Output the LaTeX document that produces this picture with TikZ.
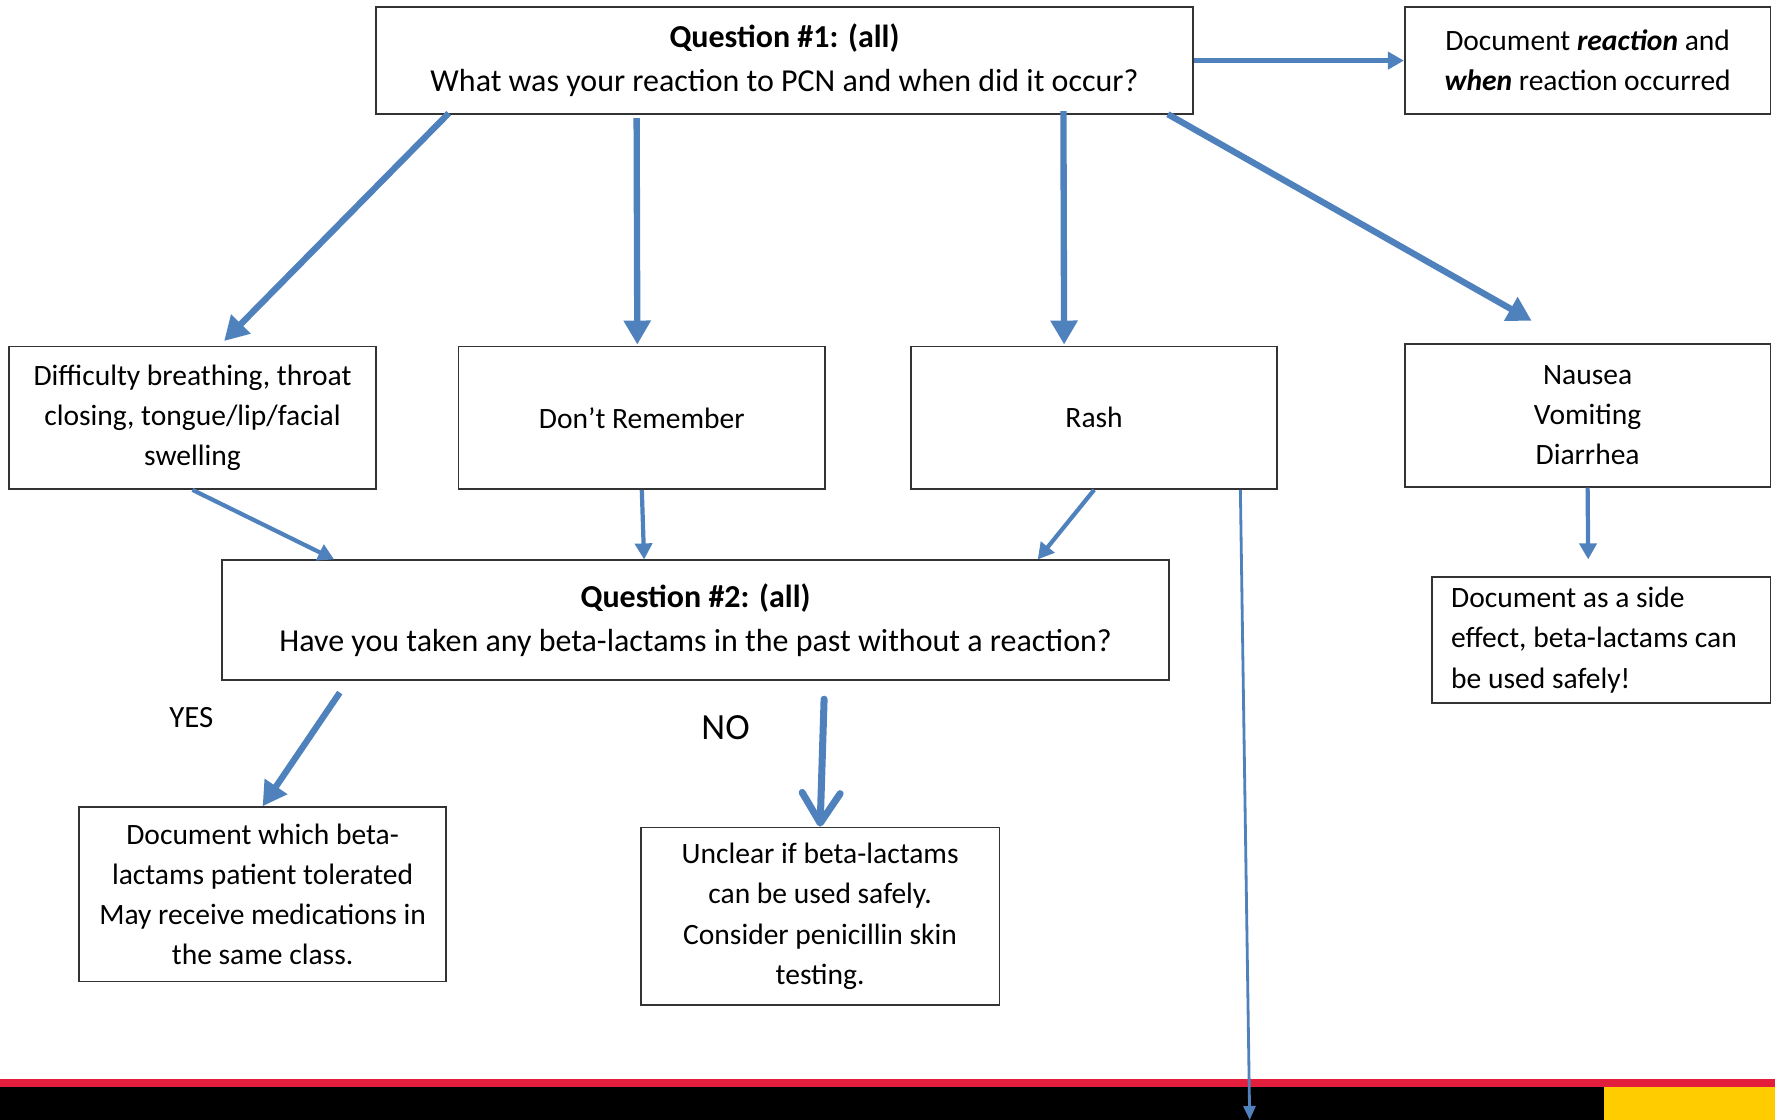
\documentclass[tikz,border=0pt]{standalone}
\usepackage{fontspec}
\setmainfont{Carlito}
\usetikzlibrary{arrows.meta}
\definecolor{flowblue}{HTML}{4F81BD}
\definecolor{barred}{HTML}{E31D3C}
\definecolor{baryellow}{HTML}{FFCC00}
\begin{document}
\begin{tikzpicture}[x=1cm,y=1cm,
  box/.style={draw=black!80, line width=0.5pt, align=center, inner sep=0pt, font=\fontsize{8.4}{11.4}\selectfont},
  qbox/.style={box, font=\fontsize{9.1}{12.5}\selectfont},
  bigflow/.style={draw=flowblue, line width=1.8pt, -{Triangle[length=0.24cm,width=0.26cm]}},
  midflow/.style={draw=flowblue, line width=1.2pt, -{Triangle[length=0.16cm,width=0.17cm]}},
  thinflow/.style={draw=flowblue, line width=0.8pt, -{Triangle[length=0.14cm,width=0.12cm]}}]
\useasboundingbox (0,0) rectangle (17.75,-11.2);
% footer bars
\fill[barred] (0,-10.79) rectangle (17.75,-10.87);
\fill[black] (0,-10.87) rectangle (17.75,-11.2);
\fill[baryellow] (16.04,-10.87) rectangle (17.75,-11.2);
% top row
\node[qbox, minimum width=8.17cm, minimum height=1.075cm] (q1) at (7.845,-0.606) {\textbf{Question \#1: (all)}\\What was your reaction to PCN and when did it occur?};
\node[box, minimum width=3.656cm, minimum height=1.075cm] (react) at (15.876,-0.606) {Document \textbf{\textit{reaction}} and\\\textbf{\textit{when}} reaction occurred};
% reactions
\node[box, minimum width=3.668cm, minimum height=1.426cm] (breath) at (1.925,-4.177) {Difficulty breathing, throat\\closing, tongue/lip/facial\\swelling};
\node[box, minimum width=3.668cm, minimum height=1.426cm] (dontrem) at (6.418,-4.177) {Don’t Remember};
\node[box, minimum width=3.656cm, minimum height=1.426cm] (rash) at (10.941,-4.177) {Rash};
\node[box, minimum width=3.656cm, minimum height=1.426cm] (nausea) at (15.876,-4.155) {Nausea\\Vomiting\\Diarrhea};
% second question
\node[qbox, minimum width=9.475cm, minimum height=1.2cm] (q2) at (6.956,-6.203) {\textbf{Question \#2: (all)}\\Have you taken any beta-lactams in the past without a reaction?};
\node[box, minimum width=3.385cm, minimum height=1.257cm, text width=3.0cm, align=flush left] (sideeff) at (16.012,-6.401) {Document as a side\\effect, beta-lactams can\\be used safely!};
% outcomes
\node[box, minimum width=3.668cm, minimum height=1.743cm] (tolerated) at (2.626,-8.943) {Document which beta-\\lactams patient tolerated\\May receive medications in\\the same class.};
\node[box, minimum width=3.589cm, minimum height=1.777cm] (unclear) at (8.201,-9.163) {Unclear if beta-lactams\\can be used safely.\\Consider penicillin skin\\testing.};
\node[font=\fontsize{8.8}{10}\selectfont] (yes) at (1.913,-7.177) {YES};
\node[font=\fontsize{10.5}{12}\selectfont] (no) at (7.256,-7.279) {NO};
\coordinate (offpage) at (12.497,-11.2);
% connectors
\draw[midflow] (q1.east) -- (react.west);
\draw[bigflow] ([xshift=0.736cm,yshift=0.02cm]q1.south west) -- ([xshift=0.316cm,yshift=0.045cm]breath.north);
\draw[bigflow] ([xshift=2.615cm,yshift=-0.03cm]q1.south west) -- ([xshift=-0.045cm,yshift=0.01cm]dontrem.north);
\draw[bigflow] ([xshift=6.883cm,yshift=0.04cm]q1.south west) -- ([xshift=-0.3cm,yshift=0.01cm]rash.north);
\draw[bigflow] ([xshift=-0.26cm,yshift=0.01cm]q1.south east) -- ([xshift=-0.56cm,yshift=0.226cm]nausea.north);
\draw[midflow] (breath.south) -- ([xshift=1.132cm]q2.north west);
\draw[midflow] (dontrem.south) -- ([xshift=-0.515cm]q2.north);
\draw[midflow] (rash.south) -- ([xshift=-1.325cm]q2.north east);
\draw[thinflow] ([xshift=-0.374cm]rash.south east) -- (offpage);
\draw[midflow] (nausea.south) -- ([xshift=-0.13cm,yshift=0.17cm]sideeff.north);
\draw[bigflow] ([xshift=1.188cm,yshift=-0.114cm]q2.south west) -- (tolerated.north);
\draw[draw=flowblue, line width=2pt, line cap=round, -{Straight Barb[round,length=0.3cm,width=0.38cm]}] ([xshift=1.285cm,yshift=-0.18cm]q2.south) -- (unclear.north);
\end{tikzpicture}
\end{document}
